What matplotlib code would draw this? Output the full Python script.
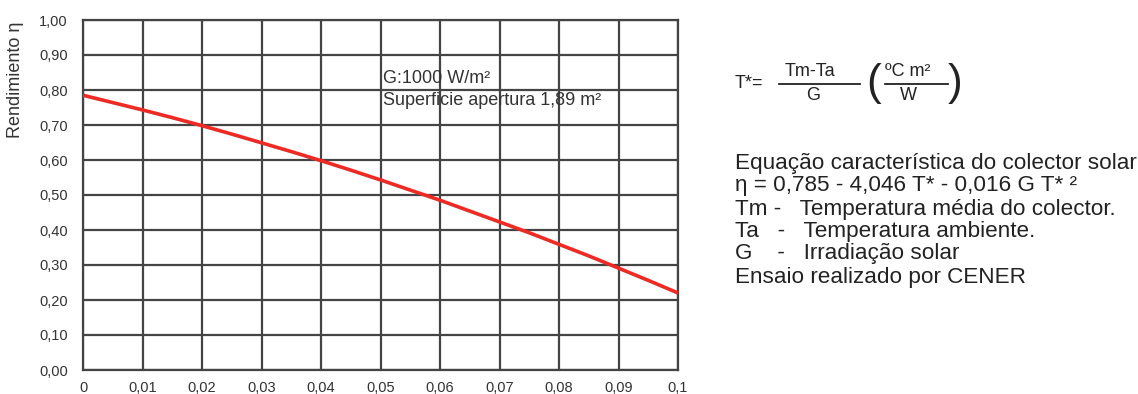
import matplotlib
matplotlib.use("Agg")
import matplotlib.pyplot as plt
from matplotlib.lines import Line2D

plt.rcParams['font.family'] = ['Liberation Sans', 'DejaVu Sans']

# Data
t_star = [0.000, 0.005, 0.010, 0.015, 0.020, 0.025, 0.030, 0.035, 0.040, 0.045,
          0.050, 0.055, 0.060, 0.065, 0.070, 0.075, 0.080, 0.085, 0.090, 0.095, 0.100]
eta = [0.785, 0.764, 0.743, 0.721, 0.698, 0.674, 0.649, 0.624, 0.598, 0.571,
       0.543, 0.514, 0.485, 0.454, 0.423, 0.392, 0.359, 0.326, 0.291, 0.256, 0.220]
x_ticks = [0, 0.01, 0.02, 0.03, 0.04, 0.05, 0.06, 0.07, 0.08, 0.09, 0.1]
x_labels = ['0', '0,01', '0,02', '0,03', '0,04', '0,05', '0,06', '0,07', '0,08', '0,09', '0,1']
y_ticks = [0.0, 0.1, 0.2, 0.3, 0.4, 0.5, 0.6, 0.7, 0.8, 0.9, 1.0]
y_labels = ['0,00', '0,10', '0,20', '0,30', '0,40', '0,50', '0,60', '0,70', '0,80', '0,90', '1,00']

W, H = 1138, 394
fig = plt.figure(figsize=(W / 100, H / 100), dpi=100)

def fx(px):
    return px / W

def fy(py):
    return 1 - py / H

ax = fig.add_axes([fx(83), fy(370), fx(678) - fx(83), fy(20) - fy(370)])
ax.set_xlim(0, 0.1)
ax.set_ylim(0, 1.0)
ax.set_xticks(x_ticks)
ax.set_xticklabels(x_labels)
ax.set_yticks(y_ticks)
ax.set_yticklabels(y_labels)
ax.tick_params(length=0, labelsize=10.5, colors='#333333')
ax.tick_params(axis='y', pad=11)
ax.tick_params(axis='x', pad=8)
ax.grid(True, color='#444444', linewidth=1.6)
for s in ax.spines.values():
    s.set_color('#444444')
    s.set_linewidth(1.6)
ax.set_axisbelow(True)

ax.plot(t_star, eta, color='#ee2a24', linewidth=2.6, solid_capstyle='butt', zorder=3, clip_on=False)

ax.text(0.0504, 0.834, 'G:1000 W/m²', fontsize=13, color='#333333', va='center', zorder=4)
ax.text(0.0504, 0.771, 'Superficie apertura 1,89 m²', fontsize=13, color='#333333', va='center', zorder=4)

fig.text(fx(16), fy(80), 'Rendimiento η', rotation=90, fontsize=13, color='#333333',
         ha='center', va='center')

# Right-hand text block
tc = '#222222'
fs_f = 13
fig.text(fx(735), fy(83), 'T*=', fontsize=fs_f, color=tc, ha='left', va='center')
fig.text(fx(810), fy(72), 'Tm-Ta', fontsize=fs_f, color=tc, ha='center', va='center')
fig.add_artist(Line2D([fx(779), fx(860)], [fy(84), fy(84)], color=tc, linewidth=1.3))
fig.text(fx(813), fy(96), 'G', fontsize=fs_f, color=tc, ha='center', va='center')
fig.text(fx(874), fy(84), '(', fontsize=32, color=tc, ha='center', va='center')
fig.text(fx(908), fy(72), 'ºC m²', fontsize=fs_f, color=tc, ha='center', va='center')
fig.add_artist(Line2D([fx(885), fx(948)], [fy(84), fy(84)], color=tc, linewidth=1.3))
fig.text(fx(908), fy(95), 'W', fontsize=fs_f, color=tc, ha='center', va='center')
fig.text(fx(955), fy(84), ')', fontsize=32, color=tc, ha='center', va='center')

lines = [
    ('Equação característica do colector solar', 163),
    ('η = 0,785 - 4,046 T* - 0,016 G T* ²', 186),
    ('Tm -   Temperatura média do colector.', 209),
    ('Ta   -   Temperatura ambiente.', 232),
    ('G    -   Irradiação solar', 254),
    ('Ensaio realizado por CENER', 277),
]
for txt, py in lines:
    fig.text(fx(735), fy(py), txt, fontsize=16.2, color=tc, ha='left', va='center')

fig.savefig('out.png', dpi=100)
